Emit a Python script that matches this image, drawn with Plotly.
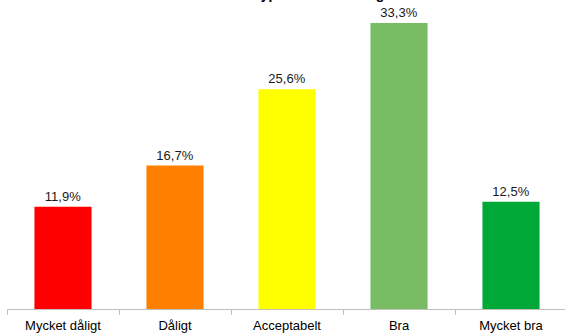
import plotly.graph_objects as go

categories = ["Mycket dåligt", "Dåligt", "Acceptabelt", "Bra", "Mycket bra"]
values = [11.9, 16.7, 25.6, 33.3, 12.5]
colors = ["#FF0000", "#FF8000", "#FFFF00", "#78BC64", "#00A838"]
title_text = "Hur bedömer du typen av utbildningen"

labels = [f"{v:.1f}%".replace(".", ",") for v in values]

FONT = "Liberation Sans, Arial, sans-serif"

fig = go.Figure(
    go.Bar(
        x=categories,
        y=values,
        marker=dict(color=colors, line=dict(width=0)),
        width=0.51,
        text=labels,
        textposition="outside",
        textfont=dict(family=FONT, size=13, color="#1A1A1A"),
        cliponaxis=False,
        hoverinfo="skip",
    )
)

fig.update_layout(
    width=565,
    height=336,
    margin=dict(l=7, r=0, t=0, b=27, autoexpand=False),
    paper_bgcolor="white",
    plot_bgcolor="white",
    showlegend=False,
    font=dict(family=FONT, size=13, color="#000000"),
    annotations=[
        dict(
            text="<b>" + title_text + "</b>",
            xref="paper",
            yref="paper",
            x=0.475,
            y=1,
            xanchor="center",
            yanchor="bottom",
            yshift=-4,
            showarrow=False,
            font=dict(family=FONT, size=14, color="#000000"),
        )
    ],
)

fig.update_xaxes(
    automargin=False,
    range=[-0.5, 4.482],
    showline=True,
    linecolor="#BFBFBF",
    linewidth=1,
    ticks="outside",
    tickson="boundaries",
    ticklen=5,
    tickcolor="#BFBFBF",
    ticklabelstandoff=4,
    showgrid=False,
    tickfont=dict(family=FONT, size=13, color="#000000"),
)
fig.update_yaxes(
    automargin=False,
    range=[0, 35.98],
    visible=False,
    showgrid=False,
    zeroline=False,
)

fig.write_html(
    "out.html",
    config={"displayModeBar": False},
    post_script="document.body.style.margin='0';document.body.style.overflow='hidden';",
)
